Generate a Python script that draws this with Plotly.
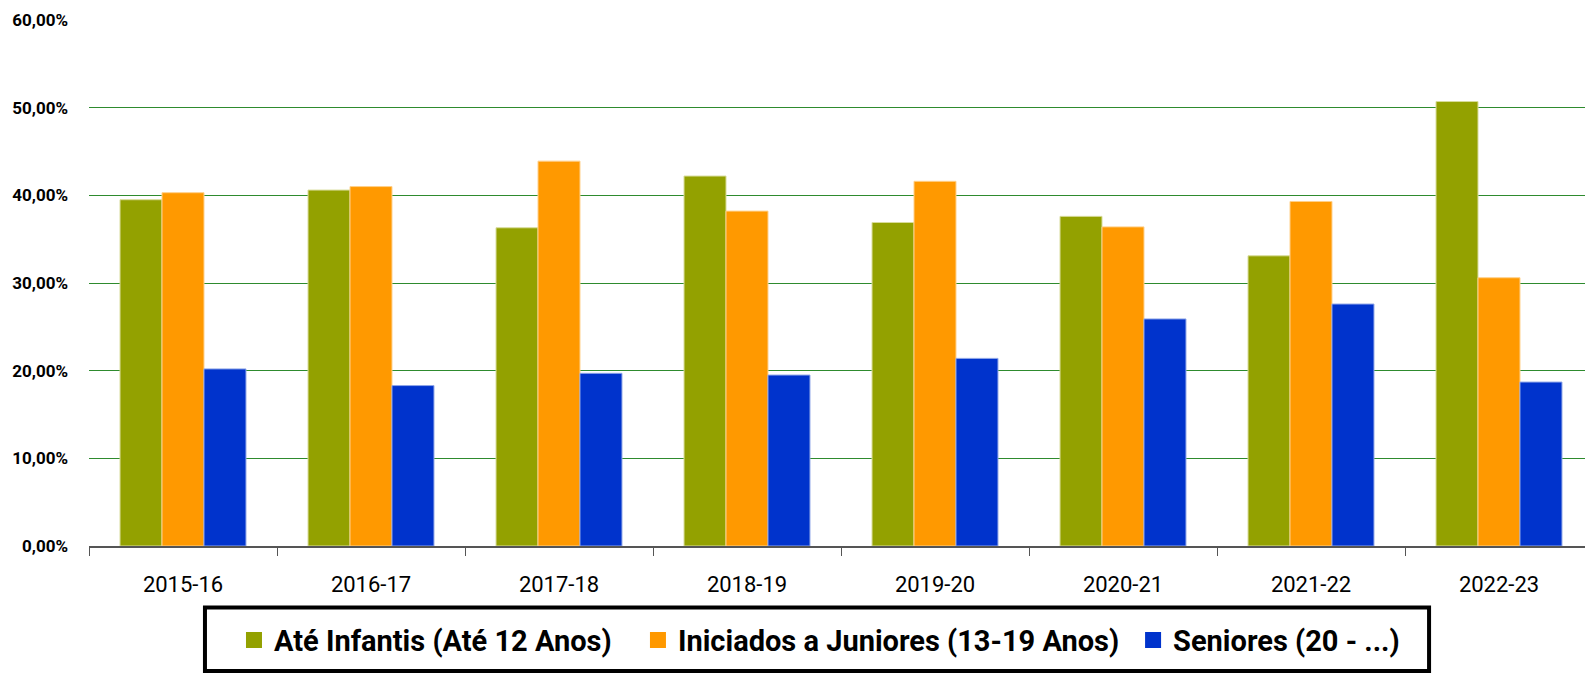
import plotly.graph_objects as go

seasons = ["2015-16", "2016-17", "2017-18", "2018-19", "2019-20", "2020-21", "2021-22", "2022-23"]
ate_infantis = [39.5, 40.6, 36.3, 42.2, 36.9, 37.6, 33.1, 50.7]
iniciados_juniores = [40.3, 41.0, 43.9, 38.2, 41.6, 36.4, 39.3, 30.6]
seniores = [20.2, 18.3, 19.7, 19.5, 21.4, 25.9, 27.6, 18.7]
y_ticks = [0, 10, 20, 30, 40, 50, 60]
y_tick_labels = ["0,00%", "10,00%", "20,00%", "30,00%", "40,00%", "50,00%", "60,00%"]

names = ["Até Infantis (Até 12 Anos)", "Iniciados a Juniores (13-19 Anos)", "Seniores (20 - ...)"]
colors = ["#93a100", "#ff9900", "#0033cc"]
edge = ["#d8dc9a", "#ffd08a", "#8fa6e8"]
legend_ids = ["legend", "legend2", "legend3"]
legend_x = [0.0964, 0.3650, 0.6942]

FONT = "Roboto"

fig = go.Figure()
for vals, name, c, e in zip([ate_infantis, iniciados_juniores, seniores], names, colors, edge):
    fig.add_trace(go.Bar(
        x=seasons, y=vals, name=name, showlegend=False,
        marker=dict(color=c, line=dict(color=e, width=1)),
    ))
# legend proxies (no data)
for name, c, lid in zip(names, colors, legend_ids):
    fig.add_trace(go.Scatter(
        x=[None], y=[None], mode="markers", name=name, legend=lid,
        marker=dict(symbol="square", size=16, color=c, line=dict(width=0)),
    ))

fig.add_shape(type="rect", xref="paper", yref="paper",
              x0=0.0771, x1=0.891, y0=-0.2376, y1=-0.117,
              line=dict(color="black", width=4), fillcolor="white", layer="below")

legend_font = dict(family=FONT, size=29, color="black", weight="bold")
leg_common = dict(orientation="h", y=-0.179, yanchor="middle", xanchor="left",
                  borderwidth=0, bgcolor="rgba(0,0,0,0)", font=legend_font, itemsizing="trace")

fig.update_layout(
    width=1593, height=674,
    barmode="group", bargap=0.33, bargroupgap=0,
    plot_bgcolor="white", paper_bgcolor="white",
    margin=dict(l=89, r=0, t=20, b=128, autoexpand=False),
    font=dict(family=FONT, color="black"),
    legend=dict(x=legend_x[0], **leg_common),
    legend2=dict(x=legend_x[1], **leg_common),
    legend3=dict(x=legend_x[2], **leg_common),
    showlegend=True,
)
fig.update_yaxes(
    range=[0, 60], tickvals=y_ticks, ticktext=y_tick_labels, automargin=False,
    showgrid=True, gridcolor="#2e8b2e", gridwidth=1, zeroline=False,
    showline=False, ticks="", ticklabelstandoff=20,
    tickfont=dict(family=FONT, size=17, color="black", weight="bold"),
)
fig.update_xaxes(
    type="category", showline=True, linecolor="#555555", linewidth=1.5, automargin=False,
    ticks="outside", tickson="boundaries", ticklen=8, tickcolor="#555555",
    showgrid=False, ticklabelstandoff=18,
    tickfont=dict(family=FONT, size=22, color="black"),
)

fig.write_html("out.html", config={"displayModeBar": False},
               post_script="document.body.style.margin='0';document.body.style.overflow='hidden';")
